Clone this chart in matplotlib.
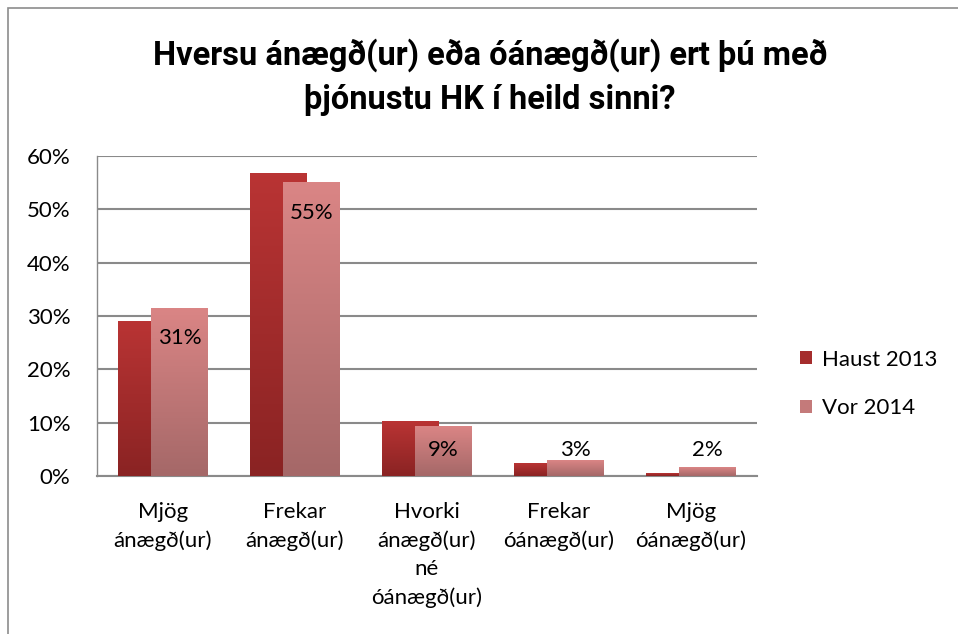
import matplotlib
matplotlib.use("Agg")
import matplotlib.pyplot as plt
import numpy as np
from matplotlib.colors import LinearSegmentedColormap
from matplotlib.patches import Rectangle, Patch
from matplotlib import font_manager

categories = ["Mjög\nánægð(ur)", "Frekar\nánægð(ur)", "Hvorki\nánægð(ur)\nné\nóánægð(ur)",
              "Frekar\nóánægð(ur)", "Mjög\nóánægð(ur)"]
haust = [0.290, 0.568, 0.103, 0.024, 0.004]   # Haust 2013
vor = [0.314, 0.550, 0.092, 0.030, 0.016]     # Vor 2014
series_names = ["Haust 2013", "Vor 2014"]
yticks = [0, 0.1, 0.2, 0.3, 0.4, 0.5, 0.6]
title = "Hversu ánægð(ur) eða óánægð(ur) ert þú með\nþjónustu HK í heild sinni?"

names = {f.name for f in font_manager.fontManager.ttflist}
body_font = "Lato" if "Lato" in names else "DejaVu Sans"
title_font = "Roboto" if "Roboto" in names else "DejaVu Sans"
plt.rcParams["font.family"] = [body_font, "DejaVu Sans"]

fig = plt.figure(figsize=(9.58, 6.34), dpi=100)
W, H = 958, 634
# outer chart border (left and top visible)
fig.patches.append(Rectangle((8 / W, -0.1), 1.2, (H - 8) / H + 0.1, transform=fig.transFigure,
                             fill=False, edgecolor="#8c8c8c", lw=1.2))

ax = fig.add_axes([97 / W, 158 / H, 660 / W, 320 / H])
x = np.arange(len(categories))
w = 0.43
off = 0.125

cm_h = LinearSegmentedColormap.from_list("h", ["#8a2323", "#b93434"])
cm_v = LinearSegmentedColormap.from_list("v", ["#a56868", "#da8585"])
grad = np.linspace(0, 1, 100).reshape(-1, 1)

for vals, dx, cm, z in [(haust, -off, cm_h, 3), (vor, off, cm_v, 4)]:
    for xi, v in zip(x, vals):
        x0 = xi + dx - w / 2
        ax.imshow(grad, extent=[x0, x0 + w, 0, v], origin="lower", cmap=cm,
                  aspect="auto", zorder=z, interpolation="bilinear")

for xi, v in zip(x, vor):
    ycen = max(v - 0.056, 0.049)
    ax.text(xi + off, ycen, f"{round(v * 100)}%", ha="center", va="center",
            fontsize=16, color="black", zorder=6)

ax.set_xlim(-0.5, len(categories) - 0.5)
ax.set_ylim(0, 0.6)
ax.set_yticks(yticks)
ax.set_yticklabels([f"{int(t * 100)}%" for t in yticks], fontsize=16)
ax.yaxis.grid(True, color="#8a8a8a", lw=1.5, zorder=0)
ax.set_axisbelow(True)
ax.set_xticks(x)
ax.set_xticklabels(categories, fontsize=16, linespacing=1.5)
ax.tick_params(length=0)
ax.tick_params(axis="x", pad=19)
ax.tick_params(axis="y", pad=19)
for s in ["right", "top"]:
    ax.spines[s].set_visible(False)
ax.spines["left"].set_color("#8a8a8a")
ax.spines["left"].set_linewidth(1.0)
ax.spines["bottom"].set_color("#8a8a8a")
ax.spines["bottom"].set_linewidth(1.5)

handles = [Patch(facecolor="#a52d2d"), Patch(facecolor="#c47a7a")]
fig.legend(handles, series_names, loc="center left", bbox_to_anchor=(780 / W, (H - 384) / H),
           frameon=False, fontsize=16, handlelength=0.55, handleheight=0.55,
           handletextpad=0.45, labelspacing=1.3)

ttl = fig.text(490 / W, (H - 77) / H, title, ha="center", va="center", fontsize=40,
               fontweight="bold", family=[title_font, "DejaVu Sans"], linespacing=1.45)
# shrink the title until it fits the reference width
renderer = fig.canvas.get_renderer()
fs = 40
while ttl.get_window_extent(renderer).width > 680 and fs > 10:
    fs -= 0.5
    ttl.set_fontsize(fs)

fig.savefig("out.png", dpi=100)
